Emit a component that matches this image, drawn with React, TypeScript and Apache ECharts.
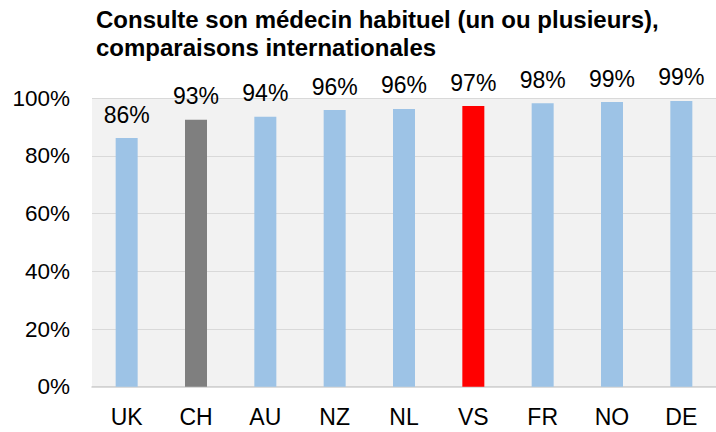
import React, { useEffect, useRef } from "react";
import * as echarts from "echarts";

const categories = ["UK", "CH", "AU", "NZ", "NL", "VS", "FR", "NO", "DE"];
const values = [86.2, 92.6, 93.6, 95.9, 96.3, 97.3, 98.3, 98.7, 99.1];
const barColors = ["#9DC3E6", "#7F7F7F", "#9DC3E6", "#9DC3E6", "#9DC3E6", "#FF0000", "#9DC3E6", "#9DC3E6", "#9DC3E6"];
const yTicks = { min: 0, max: 100, interval: 20 };
const titleText = "Consulte son médecin habituel (un ou plusieurs),\ncomparaisons internationales";

const FONT = "'Liberation Sans', Arial, sans-serif";

export default function App() {
  const ref = useRef<HTMLDivElement>(null);
  useEffect(() => {
    if (!ref.current) return;
    const chart = echarts.init(ref.current, null, { renderer: "svg" });
    chart.setOption({
      animation: false,
      textStyle: { fontFamily: FONT },
      title: {
        text: titleText,
        left: 96,
        top: 5,
        padding: 0,
        textStyle: {
          fontFamily: FONT,
          fontWeight: "bold",
          fontSize: 24,
          lineHeight: 28,
          color: "#000",
        },
      },
      grid: {
        show: true,
        backgroundColor: "#F2F2F2",
        borderWidth: 0,
        left: 92,
        top: 98.3,
        width: 627,
        height: 288.4,
      },
      xAxis: {
        type: "category",
        data: categories,
        axisTick: { show: false },
        axisLine: { show: true, lineStyle: { color: "#D0D0D0", width: 1.5 } },
        axisLabel: { color: "#000", fontSize: 23, margin: 19, fontFamily: FONT },
      },
      yAxis: {
        type: "value",
        min: yTicks.min,
        max: yTicks.max,
        interval: yTicks.interval,
        axisLine: { show: false },
        axisTick: { show: false },
        splitLine: { lineStyle: { color: "#D9D9D9", width: 1 } },
        axisLabel: {
          color: "#000",
          fontSize: 22.5,
          margin: 22,
          fontFamily: FONT,
          formatter: (v: number) => `${v}%`,
        },
      },
      series: [
        {
          type: "bar",
          barWidth: 22,
          data: values.map((v, i) => ({ value: v, itemStyle: { color: barColors[i] } })),
          label: {
            show: true,
            position: "top",
            distance: 12,
            color: "#000",
            fontSize: 23,
            fontFamily: FONT,
            formatter: (p: any) => `${Math.round(p.value)}%`,
          },
        },
      ],
    });
    return () => chart.dispose();
  }, []);
  return (
    <div
      ref={ref}
      style={{ position: "fixed", left: 0, top: 0, width: 716, height: 432, background: "#fff" }}
    />
  );
}
